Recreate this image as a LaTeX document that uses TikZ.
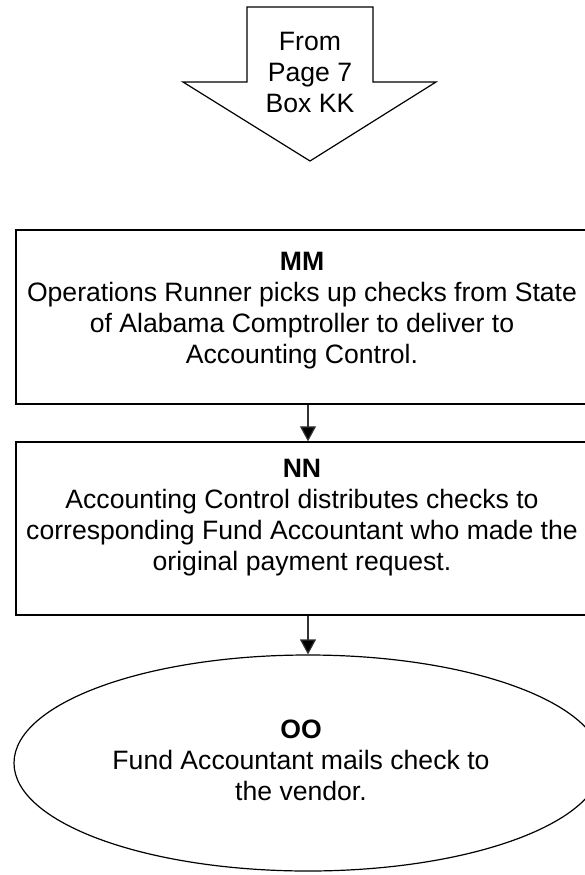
\documentclass[tikz,border=0pt]{standalone}
\usepackage{fontspec}
\setmainfont{Liberation Sans}
\usetikzlibrary{arrows.meta,shapes.geometric}
\begin{document}
\begin{tikzpicture}[x=1pt,y=-1pt,
  shape box/.style={draw=black,line width=1.4pt,rectangle,inner sep=0pt},
  txt/.style={align=center,font=\fontsize{26.6}{31}\selectfont,inner sep=0pt},
  flow/.style={draw=black!80,line width=1.2pt,-{Triangle[width=16pt,length=15pt,fill=black]}}]
\useasboundingbox (0,0) rectangle (584,875);
\fill[white] (0,0) rectangle (584,875);
% off-page connector arrow
\draw[line width=1.2pt,fill=white] (247,7) -- (373,7) -- (373,82) -- (436,82) -- (310,161) -- (183,82) -- (247,82) -- cycle;
\node[txt] (from) at (310,72) {From\\Page 7\\Box KK};
% MM box
\node[shape box,minimum width=584pt,minimum height=174pt] (mm) at (308,317) {};
\node[txt] (mmt) at (302,311) {\textbf{MM}\\Operations Runner picks up checks from State\\of Alabama Comptroller to deliver to\\Accounting Control.};
% NN box
\node[shape box,minimum width=584pt,minimum height=173pt] (nn) at (308,528.5) {};
\node[txt] (nnt) at (302,518) {\textbf{NN}\\Accounting Control distributes checks to\\corresponding Fund Accountant who made the\\original payment request.};
% OO ellipse
\node[draw=black,line width=1.2pt,ellipse,minimum width=588pt,minimum height=216pt,inner sep=0pt] (oo) at (308,763) {};
\node[txt] (oot) at (301,760) {\textbf{OO}\\Fund Accountant mails check to\\the vendor.};
\draw[flow] (mm.south) -- (nn.north);
\draw[flow] (nn.south) -- (oo.north);
\end{tikzpicture}
\end{document}
